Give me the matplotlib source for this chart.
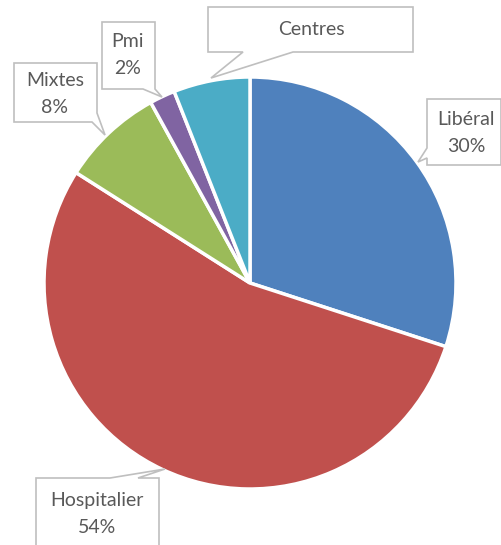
import matplotlib
matplotlib.use("Agg")
import matplotlib.pyplot as plt
from matplotlib.patches import Polygon

# data
categories = ["Libéral", "Hospitalier", "Mixtes", "Pmi", "Centres"]
values = [30, 54, 8, 2, 6]
colors = ["#4F81BD", "#C0504D", "#9BBB59", "#8064A2", "#4BACC6"]
show_pct = [True, True, True, True, False]

W, H = 502, 545
plt.rcParams["font.family"] = ["Lato", "DejaVu Sans"]

fig = plt.figure(figsize=(W / 100, H / 100), dpi=100)
ax = fig.add_axes([0, 0, 1, 1])


def py(y):
    # pixel row (from top) -> axis y
    return H - y


cx, cy, r = 250, 283, 206
ax.pie(values, colors=colors, startangle=90, counterclock=False,
       center=(cx, py(cy)), radius=r, frame=True,
       wedgeprops=dict(edgecolor="white", linewidth=2.5))
ax.set_xlim(0, W)
ax.set_ylim(0, H)
ax.set_aspect("equal")
ax.axis("off")

# callout outlines, pixel coords (x, y from top)
callouts = {
    "Centres": [(208, 7), (413, 7), (413, 52), (293, 52), (211, 78), (243, 52), (208, 52)],
    "Pmi": [(102, 22), (155, 22), (155, 89), (162, 97), (143, 89), (102, 89)],
    "Mixtes": [(14, 63), (97, 63), (97, 113), (105, 135), (92, 122), (14, 122)],
    "Libéral": [(427, 99), (501, 99), (501, 165), (427, 165), (427, 158), (418, 162), (427, 148)],
    "Hospitalier": [(36, 478), (110, 478), (165, 469), (138, 478), (159, 478), (159, 550), (36, 550)],
}
text_pos = {
    "Centres": (311, 29),
    "Pmi": (128, 55),
    "Mixtes": (55, 94),
    "Libéral": (466, 133),
    "Hospitalier": (97, 514),
}

for cat, val, pct in zip(categories, values, show_pct):
    pts = [(x, py(y)) for x, y in callouts[cat]]
    ax.add_patch(Polygon(pts, closed=True, facecolor="white", edgecolor="#BFBFBF",
                         linewidth=1.2, zorder=5, clip_on=False))
    label = f"{cat}\n{val}%" if pct else cat
    tx, ty = text_pos[cat]
    ax.text(tx, py(ty), label, ha="center", va="center", fontsize=14,
            color="#595959", linespacing=1.65, zorder=6)

fig.savefig("out.png", dpi=100, facecolor="white")
